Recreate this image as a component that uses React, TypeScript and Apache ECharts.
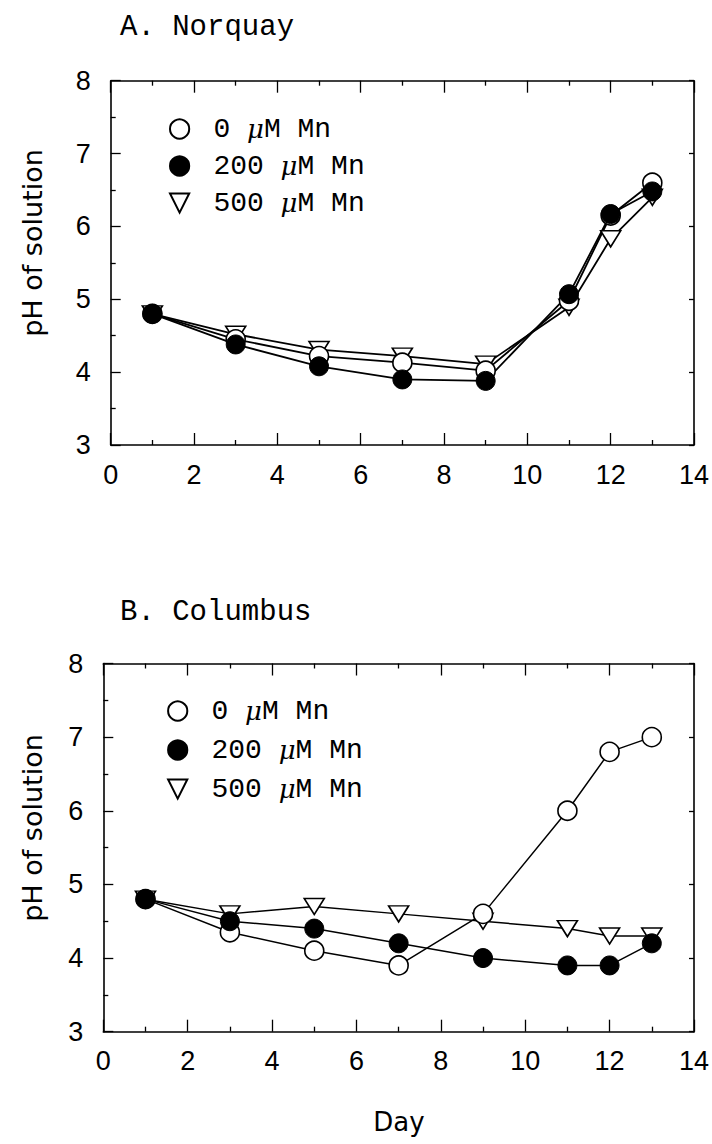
import React, { useEffect, useRef } from "react";
import * as echarts from "echarts";

const days = [1, 3, 5, 7, 9, 11, 12, 13];
const seriesNames = ["0 μM Mn", "200 μM Mn", "500 μM Mn"];

const norquay0 = [4.8, 4.45, 4.22, 4.13, 4.02, 4.98, 6.15, 6.6];
const norquay200 = [4.8, 4.38, 4.08, 3.9, 3.88, 5.07, 6.17, 6.48];
const norquay500 = [4.8, 4.52, 4.31, 4.22, 4.11, 4.89, 5.83, 6.4];

const columbus0 = [4.8, 4.35, 4.1, 3.9, 4.6, 6.0, 6.8, 7.0];
const columbus200 = [4.8, 4.5, 4.4, 4.2, 4.0, 3.9, 3.9, 4.2];
const columbus500 = [4.8, 4.6, 4.7, 4.6, 4.5, 4.4, 4.3, 4.3];

const panelTitles = ["A. Norquay", "B. Columbus"];
const xAxisTitle = "Day";
const yAxisTitle = "pH of solution";

const BLACK = "#000";

function pairs(vals: number[]) {
  return days.map((d, i) => [d, vals[i]]);
}

function makeSeries(name: string, vals: number[], idx: number, kind: string, lw: number) {
  const base: any = {
    type: "line",
    name,
    data: pairs(vals),
    xAxisIndex: idx * 2,
    yAxisIndex: idx * 2,
    lineStyle: { color: BLACK, width: lw },
    emphasis: { disabled: true },
  };
  if (kind === "open") {
    base.symbol = "circle";
    base.symbolSize = 19;
    base.itemStyle = { color: "#fff", borderColor: BLACK, borderWidth: 1.6 };
  } else if (kind === "filled") {
    base.symbol = "circle";
    base.symbolSize = 19;
    base.itemStyle = { color: BLACK, borderColor: BLACK, borderWidth: 1 };
  } else {
    base.symbol = "triangle";
    base.symbolRotate = 180;
    base.symbolSize = [20, 16];
    base.itemStyle = { color: "#fff", borderColor: BLACK, borderWidth: 1.6 };
  }
  return base;
}

const tickLabel = { color: BLACK, fontFamily: "Liberation Sans", fontSize: 27 };

function xAxes(gridIndex: number) {
  const common: any = {
    type: "value",
    gridIndex,
    min: 0,
    max: 14,
    interval: 2,
    axisLine: { show: true, onZero: false, lineStyle: { color: BLACK, width: 1.6 } },
    axisTick: { show: true, inside: true, length: 12, lineStyle: { color: BLACK, width: 1.3 } },
    minorTick: { show: true, splitNumber: 2, length: 5, lineStyle: { color: BLACK, width: 1.3 } },
    splitLine: { show: false },
    minorSplitLine: { show: false },
  };
  return [
    { ...common, position: "bottom", axisLabel: { show: true, margin: 16, ...tickLabel } },
    { ...common, position: "top", axisLabel: { show: false } },
  ];
}

function yAxes(gridIndex: number) {
  const common: any = {
    type: "value",
    gridIndex,
    min: 3,
    max: 8,
    interval: 1,
    axisLine: { show: true, onZero: false, lineStyle: { color: BLACK, width: 1.6 } },
    splitLine: { show: false },
    minorSplitLine: { show: false },
  };
  return [
    {
      ...common,
      position: "left",
      axisTick: { show: true, inside: true, length: 10, lineStyle: { color: BLACK, width: 1.3 } },
      minorTick: { show: true, splitNumber: 2, length: 5, lineStyle: { color: BLACK, width: 1.3 } },
      axisLabel: { show: true, margin: 20, ...tickLabel },
    },
    {
      ...common,
      position: "right",
      axisTick: { show: true, inside: true, length: 5, lineStyle: { color: BLACK, width: 1.3 } },
      minorTick: { show: false },
      axisLabel: { show: false },
    },
  ];
}

function legendFor(left: number, top: number, gap: number) {
  return {
    orient: "vertical",
    left,
    top,
    itemWidth: 24,
    itemHeight: 24,
    itemGap: gap,
    selectedMode: false,
    data: seriesNames,
    lineStyle: { opacity: 0, width: 0 },
    formatter: (name: string) => {
      const [a, b] = name.split("μ");
      return `{t| ${a}}{mu|μ}{t|${b}}`;
    },
    textStyle: {
      rich: {
        t: { fontFamily: "Liberation Mono", fontSize: 28, color: BLACK, lineHeight: 24 },
        mu: { fontFamily: "DejaVu Serif", fontStyle: "italic", fontSize: 26, color: BLACK, lineHeight: 24 },
      },
    },
  };
}

export default function App() {
  const ref = useRef<HTMLDivElement>(null);
  useEffect(() => {
    if (!ref.current) return;
    const chart = echarts.init(ref.current, undefined, { renderer: "svg" });
    const option: any = {
      animation: false,
      backgroundColor: "#fff",
      grid: [
        { left: 110.7, top: 80.7, width: 584.3, height: 364.3, containLabel: false },
        { left: 103.3, top: 663.5, width: 591.7, height: 368.2, containLabel: false },
      ],
      xAxis: [...xAxes(0), ...xAxes(1)],
      yAxis: [...yAxes(0), ...yAxes(1)],
      legend: [legendFor(162.6, 110, 9), legendFor(160.7, 692, 11)],
      series: [
        makeSeries(seriesNames[2], norquay500, 0, "tri", 1.8),
        makeSeries(seriesNames[0], norquay0, 0, "open", 1.8),
        makeSeries(seriesNames[1], norquay200, 0, "filled", 1.8),
        makeSeries(seriesNames[2], columbus500, 1, "tri", 1.5),
        makeSeries(seriesNames[0], columbus0, 1, "open", 1.5),
        makeSeries(seriesNames[1], columbus200, 1, "filled", 1.5),
      ],
      graphic: [
        {
          type: "text",
          x: 120,
          y: 27,
          style: { text: panelTitles[0], fontFamily: "Liberation Mono", fontSize: 29, fill: BLACK, align: "left", verticalAlign: "middle" },
        },
        {
          type: "text",
          x: 120,
          y: 612,
          style: { text: panelTitles[1], fontFamily: "Liberation Mono", fontSize: 29, fill: BLACK, align: "left", verticalAlign: "middle" },
        },
        {
          type: "text",
          x: 32,
          y: 243,
          rotation: Math.PI / 2,
          style: { text: yAxisTitle, fontFamily: "DejaVu Sans", fontSize: 27, fill: BLACK, align: "center", verticalAlign: "middle" },
        },
        {
          type: "text",
          x: 32,
          y: 828,
          rotation: Math.PI / 2,
          style: { text: yAxisTitle, fontFamily: "DejaVu Sans", fontSize: 27, fill: BLACK, align: "center", verticalAlign: "middle" },
        },
        {
          type: "text",
          x: 399,
          y: 1122,
          style: { text: xAxisTitle, fontFamily: "DejaVu Sans", fontSize: 26, fill: BLACK, align: "center", verticalAlign: "middle" },
        },
      ],
    };
    chart.setOption(option);
    return () => chart.dispose();
  }, []);
  return (
    <div
      ref={ref}
      style={{ position: "absolute", left: 0, top: 0, width: 712, height: 1144, background: "#fff" }}
    />
  );
}
